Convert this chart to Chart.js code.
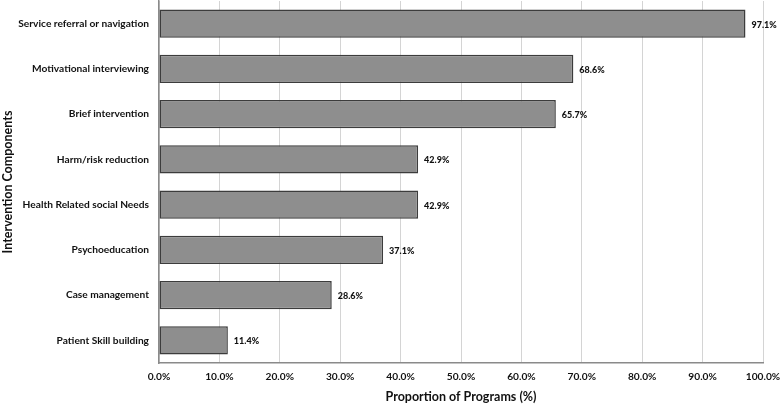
<!DOCTYPE html>
<html>
<head>
<meta charset="utf-8">
<script src="https://cdn.jsdelivr.net/npm/chart.js@4"></script>
<style>
  html, body { margin: 0; padding: 0; background: #ffffff; }
  #wrap { width: 782px; height: 404px; }
</style>
</head>
<body>
<div id="wrap"><canvas id="componentsChart"></canvas></div>
<script>
const components = [
  "Service referral or navigation",
  "Motivational interviewing",
  "Brief intervention",
  "Harm/risk reduction",
  "Health Related social Needs",
  "Psychoeducation",
  "Case management",
  "Patient Skill building"
];
const proportions = [97.1, 68.6, 65.7, 42.9, 42.9, 37.1, 28.6, 11.4];
const xTicks = [0, 10, 20, 30, 40, 50, 60, 70, 80, 90, 100];

const fontFamily = "Lato, 'Open Sans', sans-serif";
const labelFont = { family: fontFamily, size: 10.2, weight: "bold" };

// scrive il valore a destra di ogni barra
const valueLabels = {
  id: "valueLabels",
  afterDatasetsDraw(chart) {
    const { ctx } = chart;
    const meta = chart.getDatasetMeta(0);
    ctx.save();
    ctx.font = "900 9px " + fontFamily;
    ctx.fillStyle = "#111111";
    ctx.textAlign = "left";
    ctx.textBaseline = "middle";
    meta.data.forEach((bar, i) => {
      ctx.fillText(proportions[i].toFixed(1) + "%", bar.x + 6, bar.y + 1);
    });
    ctx.restore();
  }
};

const config = {
  type: "bar",
  data: {
    labels: components,
    datasets: [{
      data: proportions,
      backgroundColor: "#8e8e8e",
      borderColor: "#3c3c3c",
      borderWidth: 1.5,
      borderSkipped: false,
      barPercentage: 0.62,
      categoryPercentage: 1.0
    }]
  },
  options: {
    indexAxis: "y",
    responsive: true,
    maintainAspectRatio: false,
    animation: false,
    layout: { padding: { top: 1, right: 19, left: 0, bottom: 0 } },
    plugins: {
      legend: { display: false },
      tooltip: { enabled: false }
    },
    scales: {
      x: {
        min: 0,
        max: 100,
        afterBuildTicks: (scale) => { scale.ticks = xTicks.map(v => ({ value: v })); },
        afterFit: (scale) => {
          scale.height = 41;
          scale.paddingLeft = 0;
          scale.paddingRight = 0;
        },
        grid: { color: "#d4d4d4", lineWidth: 1, drawTicks: false },
        border: { color: "#8a8a8a", width: 1.5 },
        ticks: {
          padding: 8,
          color: "#111111",
          font: labelFont,
          callback: (v) => Number(v).toFixed(1) + "%"
        },
        title: {
          display: true,
          text: "Proportion of Programs (%)",
          color: "#111111",
          font: { family: fontFamily, size: 12.5, weight: "bold" },
          padding: { top: 2, bottom: 0 }
        }
      },
      y: {
        afterFit: (scale) => {
          scale.width = 159;
          scale.paddingTop = 0;
          scale.paddingBottom = 0;
        },
        grid: { display: false, drawTicks: false },
        border: { color: "#8a8a8a", width: 1.5 },
        ticks: { padding: 10, color: "#111111", font: labelFont },
        title: {
          display: true,
          text: "Intervention Components",
          color: "#111111",
          font: { family: fontFamily, size: 12.5, weight: "bold" },
          padding: { top: 0, bottom: 0 }
        }
      }
    }
  },
  plugins: [valueLabels]
};

let componentsChart = new Chart(document.getElementById("componentsChart"), config);
</script>
</body>
</html>
